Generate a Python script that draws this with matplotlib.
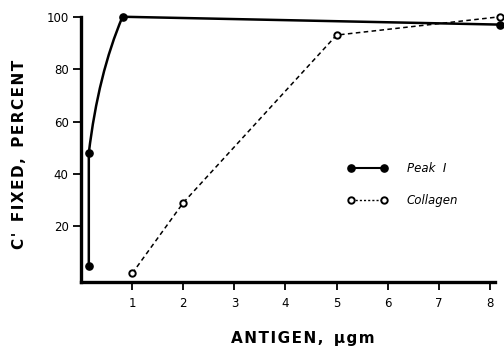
import matplotlib
matplotlib.use('Agg')
import matplotlib.pyplot as plt
from matplotlib.path import Path
from matplotlib.patches import PathPatch
from matplotlib.lines import Line2D

# values
peak_x = [0.15, 0.15, 0.81, 8.2]
peak_y = [5, 48, 100, 97]
coll_x = [1, 2, 5, 8.2]
coll_y = [2, 29, 93, 100]
x_ticks = [1, 2, 3, 4, 5, 6, 7, 8]
y_ticks = [20, 40, 60, 80, 100]

# how the hand-drawn Peak I curve bends between its 2nd and 3rd points
bend_x, bend_y = 0.28, 0.58

fig = plt.figure(figsize=(5.04, 3.49), dpi=100)
ax = fig.add_axes([0.161, 0.1934, 0.821, 0.7586])

# Peak I: straight rise, smooth bend into the plateau, then straight line
ctrl = (peak_x[1] + bend_x * (peak_x[2] - peak_x[1]),
        peak_y[1] + bend_y * (peak_y[2] - peak_y[1]))
verts = [(peak_x[0], peak_y[0]), (peak_x[1], peak_y[1]), ctrl,
         (peak_x[2], peak_y[2]), (peak_x[3], peak_y[3])]
codes = [Path.MOVETO, Path.LINETO, Path.CURVE3, Path.CURVE3, Path.LINETO]
ax.add_patch(PathPatch(Path(verts, codes), facecolor='none', edgecolor='black',
                       lw=1.8, clip_on=False, capstyle='round'))
ax.plot(peak_x, peak_y, 'o', color='black', ms=5.2, clip_on=False, zorder=4)

ax.plot(coll_x, coll_y, color='black', lw=1.1, ls=(0, (3, 2.2)),
        marker='o', mfc='white', mec='black', mew=1.4, ms=4.6,
        clip_on=False, zorder=3)

ax.set_xlim(0, 8.1)
ax.set_ylim(-1.1, 100)
ax.set_xticks(x_ticks)
ax.set_yticks(y_ticks)
ax.tick_params(direction='out', length=6, width=1.3, labelsize=8.5, pad=5)
ax.tick_params(axis='y', pad=3)
for s in ['top', 'right']:
    ax.spines[s].set_visible(False)
for s in ['left', 'bottom']:
    ax.spines[s].set_linewidth(2.4)

hs = '\u200a'
xlab = hs.join('ANTIGEN,') + '  ' + hs.join('\u03bcgm')
ylab = hs.join("C'") + '  ' + hs.join('FIXED,') + '  ' + hs.join('PERCENT')
ax.set_xlabel(xlab, fontsize=11, fontweight='bold')
ax.xaxis.set_label_coords(0.536, -0.187)
ax.set_ylabel(ylab, fontsize=11, fontweight='bold')
ax.yaxis.set_label_coords(-0.130, 0.48)

handles = [
    Line2D([], [], color='black', lw=1.5, marker='o', ms=5.2),
    Line2D([], [], color='black', lw=1.0, ls=(0, (1.5, 1.5)), marker='o',
           mfc='white', mec='black', mew=1.4, ms=4.6),
]
ax.legend(handles, ['Peak  I', 'Collagen'], numpoints=2, frameon=False,
          prop={'style': 'italic', 'size': 8.5}, handlelength=3.4,
          handletextpad=1.6, labelspacing=1.65,
          loc='center left', bbox_to_anchor=(0.619, 0.366))

fig.savefig('out.png', dpi=100)
